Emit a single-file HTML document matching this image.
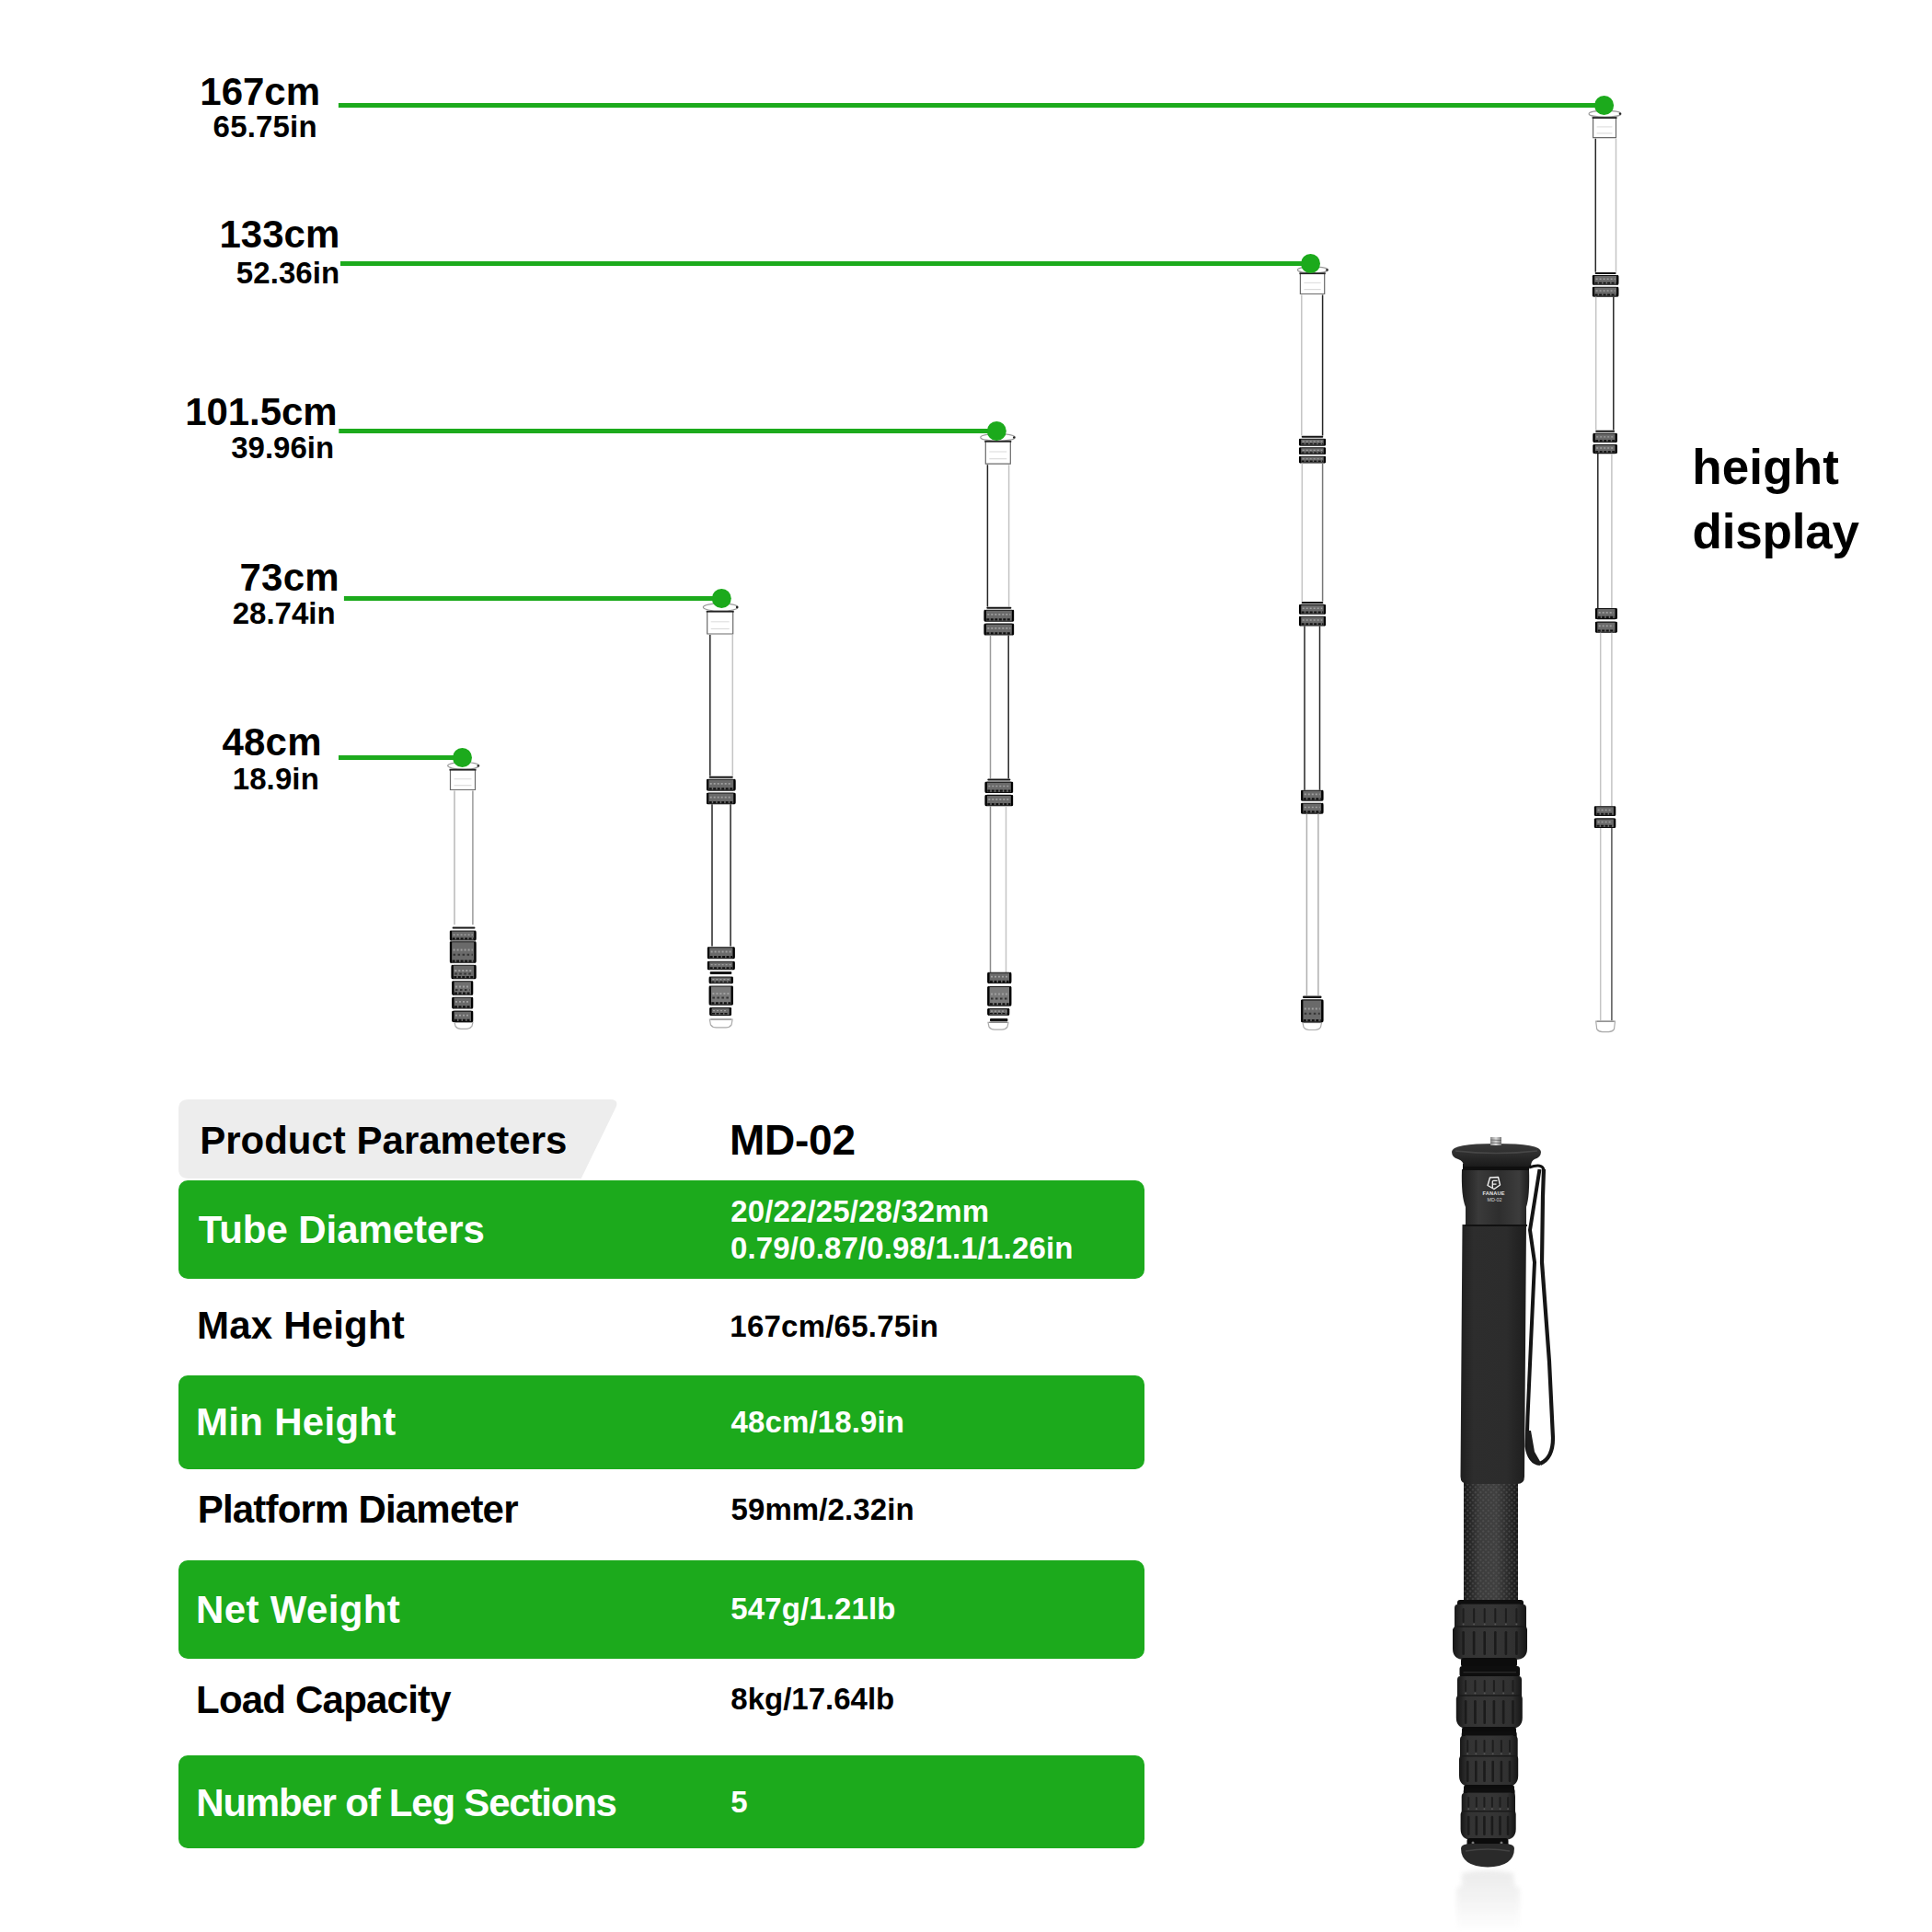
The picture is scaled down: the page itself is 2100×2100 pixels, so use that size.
<!DOCTYPE html>
<html><head><meta charset="utf-8"><style>
html,body{margin:0;padding:0;background:#fff;width:2100px;height:2100px;overflow:hidden}
.abs{position:absolute}
.t{position:absolute;white-space:nowrap;font-family:"Liberation Sans",sans-serif;font-weight:bold}
</style></head><body>
<svg class="abs" width="2100" height="2100" viewBox="0 0 2100 2100" style="left:0;top:0">
<ellipse cx="503.8" cy="832.35" rx="17.100000000000012" ry="3.8500000000000227" fill="#fff" stroke="#9a9a9a" stroke-width="1.2"/><circle cx="519.8000000000001" cy="832.35" r="1.2" fill="#222"/><path d="M489.5,836.2 L489.5,858.5 L516.5,858.5 L516.5,836.2" fill="#fff" stroke="#6a6a6a" stroke-width="1.2"/><line x1="488.5" y1="836.7" x2="517.5" y2="836.7" stroke="#222" stroke-width="1.8"/><line x1="493.5" y1="846.7" x2="512.5" y2="846.7" stroke="#e0e0e0" stroke-width="1.2"/><line x1="493.5" y1="853.7" x2="512.5" y2="853.7" stroke="#dcdcdc" stroke-width="1.2"/><line x1="494" y1="859.5" x2="494" y2="1005" stroke="#b8b8b8" stroke-width="1.5"/><line x1="513.9" y1="859.5" x2="513.9" y2="1005" stroke="#9a9a9a" stroke-width="1.5"/><rect x="491.6" y="1007.4" width="24.899999999999977" height="2.1000000000000227" rx="1" fill="#151515"/><path d="M494,1111 L514,1111 L513,1115.3 Q511,1118.3 507,1118.3 L501,1118.3 Q497,1118.3 495,1115.3 Z" fill="#fff" stroke="#aaa" stroke-width="1.2"/><line x1="495" y1="1111" x2="513" y2="1111" stroke="#888" stroke-width="1.2"/><rect x="489.6" y="1012.0" width="27.2" height="10.0" rx="2" fill="#6a6a6a" stroke="#111" stroke-width="1.1"/><line x1="490.0" y1="1012.7" x2="490.0" y2="1021.3" stroke="#000" stroke-width="2.3" stroke-linecap="round"/><line x1="516.4" y1="1012.7" x2="516.4" y2="1021.3" stroke="#000" stroke-width="2.3" stroke-linecap="round"/><line x1="492.6" y1="1015.9" x2="513.8" y2="1015.9" stroke="#a0a0a0" stroke-width="1.5" stroke-dasharray="2 2"/><line x1="491.6" y1="1020.3" x2="514.8" y2="1020.3" stroke="#111" stroke-width="2.0" stroke-dasharray="3 1.5"/><rect x="489.6" y="1023.7" width="27.2" height="22.6" rx="2" fill="#6a6a6a" stroke="#111" stroke-width="1.1"/><line x1="490.0" y1="1024.4" x2="490.0" y2="1045.6" stroke="#000" stroke-width="2.3" stroke-linecap="round"/><line x1="516.4" y1="1024.4" x2="516.4" y2="1045.6" stroke="#000" stroke-width="2.3" stroke-linecap="round"/><line x1="492.6" y1="1032.6" x2="513.8" y2="1032.6" stroke="#a0a0a0" stroke-width="2.0" stroke-dasharray="2 2"/><line x1="492.6" y1="1037.8" x2="513.8" y2="1037.8" stroke="#333" stroke-width="2" stroke-dasharray="2.5 2.5"/><line x1="491.6" y1="1044.6" x2="514.8" y2="1044.6" stroke="#111" stroke-width="2.2" stroke-dasharray="3 1.5"/><rect x="491.3" y="1049.3" width="25.5" height="14.5" rx="2" fill="#6a6a6a" stroke="#111" stroke-width="1.1"/><line x1="491.7" y1="1050.0" x2="491.7" y2="1063.1" stroke="#000" stroke-width="2.3" stroke-linecap="round"/><line x1="516.4" y1="1050.0" x2="516.4" y2="1063.1" stroke="#000" stroke-width="2.3" stroke-linecap="round"/><line x1="494.3" y1="1055.0" x2="513.8" y2="1055.0" stroke="#a0a0a0" stroke-width="2.0" stroke-dasharray="2 2"/><line x1="494.3" y1="1058.4" x2="513.8" y2="1058.4" stroke="#333" stroke-width="2" stroke-dasharray="2.5 2.5"/><line x1="493.3" y1="1062.1" x2="514.8" y2="1062.1" stroke="#111" stroke-width="2.2" stroke-dasharray="3 1.5"/><rect x="492.0" y="1066.8" width="21.5" height="14.5" rx="2" fill="#707070" stroke="#111" stroke-width="1.1"/><line x1="492.4" y1="1067.5" x2="492.4" y2="1080.6" stroke="#000" stroke-width="2.3" stroke-linecap="round"/><line x1="513.1" y1="1067.5" x2="513.1" y2="1080.6" stroke="#000" stroke-width="2.3" stroke-linecap="round"/><line x1="495.0" y1="1072.5" x2="510.5" y2="1072.5" stroke="#a0a0a0" stroke-width="2.0" stroke-dasharray="2 2"/><line x1="495.0" y1="1075.9" x2="510.5" y2="1075.9" stroke="#333" stroke-width="2" stroke-dasharray="2.5 2.5"/><line x1="494.0" y1="1079.6" x2="511.5" y2="1079.6" stroke="#111" stroke-width="2.2" stroke-dasharray="3 1.5"/><rect x="492.0" y="1084.3" width="21.5" height="11.7" rx="2" fill="#6a6a6a" stroke="#111" stroke-width="1.1"/><line x1="492.4" y1="1085.0" x2="492.4" y2="1095.3" stroke="#000" stroke-width="2.3" stroke-linecap="round"/><line x1="513.1" y1="1085.0" x2="513.1" y2="1095.3" stroke="#000" stroke-width="2.3" stroke-linecap="round"/><line x1="495.0" y1="1088.9" x2="510.5" y2="1088.9" stroke="#a0a0a0" stroke-width="1.8" stroke-dasharray="2 2"/><line x1="494.0" y1="1094.3" x2="511.5" y2="1094.3" stroke="#111" stroke-width="2.2" stroke-dasharray="3 1.5"/><rect x="492.0" y="1099.1" width="21.5" height="11.4" rx="2" fill="#6a6a6a" stroke="#111" stroke-width="1.1"/><line x1="492.4" y1="1099.8" x2="492.4" y2="1109.8" stroke="#000" stroke-width="2.3" stroke-linecap="round"/><line x1="513.1" y1="1099.8" x2="513.1" y2="1109.8" stroke="#000" stroke-width="2.3" stroke-linecap="round"/><line x1="495.0" y1="1103.6" x2="510.5" y2="1103.6" stroke="#a0a0a0" stroke-width="1.7" stroke-dasharray="2 2"/><line x1="494.0" y1="1108.8" x2="511.5" y2="1108.8" stroke="#111" stroke-width="2.2" stroke-dasharray="3 1.5"/>
<ellipse cx="783.25" cy="660.05" rx="18.949999999999978" ry="4.150000000000034" fill="#fff" stroke="#9a9a9a" stroke-width="1.2"/><circle cx="801.1" cy="660.05" r="1.2" fill="#222"/><path d="M768.7,664.2 L768.7,689 L796.7,689 L796.7,664.2" fill="#fff" stroke="#6a6a6a" stroke-width="1.2"/><line x1="767.7" y1="664.7" x2="797.7" y2="664.7" stroke="#222" stroke-width="1.8"/><line x1="772.7" y1="675.8" x2="792.7" y2="675.8" stroke="#e0e0e0" stroke-width="1.2"/><line x1="772.7" y1="683.5" x2="792.7" y2="683.5" stroke="#dcdcdc" stroke-width="1.2"/><line x1="771.8" y1="690" x2="771.8" y2="843.5" stroke="#262626" stroke-width="1.5"/><line x1="796.3" y1="690" x2="796.3" y2="843.5" stroke="#c4c4c4" stroke-width="1.5"/><rect x="770.7" y="843.8" width="26.09999999999991" height="2.0" rx="1" fill="#151515"/><rect x="768.7" y="847.3" width="30.1" height="11.8" rx="2" fill="#6a6a6a" stroke="#111" stroke-width="1.1"/><line x1="769.1" y1="848.0" x2="769.1" y2="858.3" stroke="#000" stroke-width="2.3" stroke-linecap="round"/><line x1="798.4" y1="848.0" x2="798.4" y2="858.3" stroke="#000" stroke-width="2.3" stroke-linecap="round"/><line x1="771.7" y1="851.9" x2="795.8" y2="851.9" stroke="#a0a0a0" stroke-width="1.8" stroke-dasharray="2 2"/><line x1="770.7" y1="857.3" x2="796.8" y2="857.3" stroke="#111" stroke-width="2.2" stroke-dasharray="3 1.5"/><rect x="768.7" y="862.0" width="30.1" height="11.8" rx="2" fill="#6a6a6a" stroke="#111" stroke-width="1.1"/><line x1="769.1" y1="862.8" x2="769.1" y2="873.1" stroke="#000" stroke-width="2.3" stroke-linecap="round"/><line x1="798.4" y1="862.8" x2="798.4" y2="873.1" stroke="#000" stroke-width="2.3" stroke-linecap="round"/><line x1="771.7" y1="866.6" x2="795.8" y2="866.6" stroke="#a0a0a0" stroke-width="1.8" stroke-dasharray="2 2"/><line x1="770.7" y1="872.1" x2="796.8" y2="872.1" stroke="#111" stroke-width="2.2" stroke-dasharray="3 1.5"/><line x1="774" y1="874.3" x2="774" y2="1028.6" stroke="#262626" stroke-width="1.5"/><line x1="794.1" y1="874.3" x2="794.1" y2="1028.6" stroke="#262626" stroke-width="1.5"/><path d="M771.4,1108 L796.1,1108 L795.1,1113.8 Q793.1,1116.8 789.1,1116.8 L778.4,1116.8 Q774.4,1116.8 772.4,1113.8 Z" fill="#fff" stroke="#aaa" stroke-width="1.2"/><line x1="772.4" y1="1108" x2="795.1" y2="1108" stroke="#888" stroke-width="1.2"/><rect x="769.6" y="1029.8" width="28.4" height="12.0" rx="2" fill="#6a6a6a" stroke="#111" stroke-width="1.1"/><line x1="770.0" y1="1030.5" x2="770.0" y2="1041.1" stroke="#000" stroke-width="2.3" stroke-linecap="round"/><line x1="797.6" y1="1030.5" x2="797.6" y2="1041.1" stroke="#000" stroke-width="2.3" stroke-linecap="round"/><line x1="772.6" y1="1034.5" x2="795.0" y2="1034.5" stroke="#a0a0a0" stroke-width="1.8" stroke-dasharray="2 2"/><line x1="771.6" y1="1040.1" x2="796.0" y2="1040.1" stroke="#111" stroke-width="2.2" stroke-dasharray="3 1.5"/><rect x="769.6" y="1045.3" width="28.4" height="8.5" rx="2" fill="#6a6a6a" stroke="#111" stroke-width="1.1"/><line x1="770.0" y1="1046.0" x2="770.0" y2="1053.1" stroke="#000" stroke-width="2.3" stroke-linecap="round"/><line x1="797.6" y1="1046.0" x2="797.6" y2="1053.1" stroke="#000" stroke-width="2.3" stroke-linecap="round"/><line x1="772.6" y1="1048.6" x2="795.0" y2="1048.6" stroke="#a0a0a0" stroke-width="1.3" stroke-dasharray="2 2"/><line x1="771.6" y1="1052.1" x2="796.0" y2="1052.1" stroke="#111" stroke-width="1.7" stroke-dasharray="3 1.5"/><rect x="771.7" y="1056" width="23.59999999999991" height="3" rx="1" fill="#151515"/><rect x="771.4" y="1062.0" width="24.7" height="6.8" rx="2" fill="#6a6a6a" stroke="#111" stroke-width="1.1"/><line x1="771.8" y1="1062.7" x2="771.8" y2="1068.1" stroke="#000" stroke-width="2.3" stroke-linecap="round"/><line x1="795.7" y1="1062.7" x2="795.7" y2="1068.1" stroke="#000" stroke-width="2.3" stroke-linecap="round"/><line x1="774.4" y1="1064.6" x2="793.1" y2="1064.6" stroke="#a0a0a0" stroke-width="1.1" stroke-dasharray="2 2"/><line x1="773.4" y1="1067.1" x2="794.1" y2="1067.1" stroke="#111" stroke-width="1.4" stroke-dasharray="3 1.5"/><rect x="771.4" y="1072.0" width="24.7" height="20.1" rx="2" fill="#7a7a7a" stroke="#111" stroke-width="1.1"/><line x1="771.8" y1="1072.7" x2="771.8" y2="1091.4" stroke="#000" stroke-width="2.3" stroke-linecap="round"/><line x1="795.7" y1="1072.7" x2="795.7" y2="1091.4" stroke="#000" stroke-width="2.3" stroke-linecap="round"/><line x1="774.4" y1="1079.9" x2="793.1" y2="1079.9" stroke="#a0a0a0" stroke-width="2.0" stroke-dasharray="2 2"/><line x1="774.4" y1="1084.6" x2="793.1" y2="1084.6" stroke="#333" stroke-width="2" stroke-dasharray="2.5 2.5"/><line x1="773.4" y1="1090.4" x2="794.1" y2="1090.4" stroke="#111" stroke-width="2.2" stroke-dasharray="3 1.5"/><rect x="772.0" y="1095.5" width="22.3" height="8.0" rx="2" fill="#6a6a6a" stroke="#111" stroke-width="1.1"/><line x1="772.4" y1="1096.2" x2="772.4" y2="1102.8" stroke="#000" stroke-width="2.3" stroke-linecap="round"/><line x1="793.9" y1="1096.2" x2="793.9" y2="1102.8" stroke="#000" stroke-width="2.3" stroke-linecap="round"/><line x1="775.0" y1="1098.6" x2="791.3" y2="1098.6" stroke="#a0a0a0" stroke-width="1.3" stroke-dasharray="2 2"/><line x1="774.0" y1="1101.8" x2="792.3" y2="1101.8" stroke="#111" stroke-width="1.6" stroke-dasharray="3 1.5"/>
<ellipse cx="1084.55" cy="475.4" rx="18.750000000000046" ry="3.9000000000000057" fill="#fff" stroke="#9a9a9a" stroke-width="1.2"/><circle cx="1102.2" cy="475.4" r="1.2" fill="#222"/><path d="M1071.3,479.3 L1071.3,504.2 L1098.3,504.2 L1098.3,479.3" fill="#fff" stroke="#6a6a6a" stroke-width="1.2"/><line x1="1070.3" y1="479.8" x2="1099.3" y2="479.8" stroke="#222" stroke-width="1.8"/><line x1="1075.3" y1="491.0" x2="1094.3" y2="491.0" stroke="#e0e0e0" stroke-width="1.2"/><line x1="1075.3" y1="498.7" x2="1094.3" y2="498.7" stroke="#dcdcdc" stroke-width="1.2"/><line x1="1073.4" y1="505.2" x2="1073.4" y2="659.5" stroke="#262626" stroke-width="1.5"/><line x1="1096.6" y1="505.2" x2="1096.6" y2="659.5" stroke="#c4c4c4" stroke-width="1.5"/><rect x="1072.3" y="659.8" width="27.100000000000136" height="2.0" rx="1" fill="#151515"/><rect x="1070.3" y="663.3" width="31.1" height="11.9" rx="2" fill="#6a6a6a" stroke="#111" stroke-width="1.1"/><line x1="1070.7" y1="664.0" x2="1070.7" y2="674.4" stroke="#000" stroke-width="2.3" stroke-linecap="round"/><line x1="1101.0" y1="664.0" x2="1101.0" y2="674.4" stroke="#000" stroke-width="2.3" stroke-linecap="round"/><line x1="1073.3" y1="667.9" x2="1098.4" y2="667.9" stroke="#a0a0a0" stroke-width="1.8" stroke-dasharray="2 2"/><line x1="1072.3" y1="673.4" x2="1099.4" y2="673.4" stroke="#111" stroke-width="2.2" stroke-dasharray="3 1.5"/><rect x="1070.3" y="678.1" width="31.1" height="11.9" rx="2" fill="#6a6a6a" stroke="#111" stroke-width="1.1"/><line x1="1070.7" y1="678.9" x2="1070.7" y2="689.3" stroke="#000" stroke-width="2.3" stroke-linecap="round"/><line x1="1101.0" y1="678.9" x2="1101.0" y2="689.3" stroke="#000" stroke-width="2.3" stroke-linecap="round"/><line x1="1073.3" y1="682.8" x2="1098.4" y2="682.8" stroke="#a0a0a0" stroke-width="1.8" stroke-dasharray="2 2"/><line x1="1072.3" y1="688.3" x2="1099.4" y2="688.3" stroke="#111" stroke-width="2.2" stroke-dasharray="3 1.5"/><line x1="1076.5" y1="690.5" x2="1076.5" y2="846.3" stroke="#9a9a9a" stroke-width="1.5"/><line x1="1096.2" y1="690.5" x2="1096.2" y2="846.3" stroke="#262626" stroke-width="1.5"/><rect x="1073.3" y="846.5999999999999" width="25.100000000000136" height="2.0" rx="1" fill="#151515"/><rect x="1071.3" y="850.1" width="29.1" height="11.4" rx="2" fill="#6a6a6a" stroke="#111" stroke-width="1.1"/><line x1="1071.7" y1="850.8" x2="1071.7" y2="860.7" stroke="#000" stroke-width="2.3" stroke-linecap="round"/><line x1="1100.0" y1="850.8" x2="1100.0" y2="860.7" stroke="#000" stroke-width="2.3" stroke-linecap="round"/><line x1="1074.3" y1="854.5" x2="1097.4" y2="854.5" stroke="#a0a0a0" stroke-width="1.7" stroke-dasharray="2 2"/><line x1="1073.3" y1="859.7" x2="1098.4" y2="859.7" stroke="#111" stroke-width="2.2" stroke-dasharray="3 1.5"/><rect x="1071.3" y="864.4" width="29.1" height="11.4" rx="2" fill="#6a6a6a" stroke="#111" stroke-width="1.1"/><line x1="1071.7" y1="865.1" x2="1071.7" y2="875.1" stroke="#000" stroke-width="2.3" stroke-linecap="round"/><line x1="1100.0" y1="865.1" x2="1100.0" y2="875.1" stroke="#000" stroke-width="2.3" stroke-linecap="round"/><line x1="1074.3" y1="868.9" x2="1097.4" y2="868.9" stroke="#a0a0a0" stroke-width="1.7" stroke-dasharray="2 2"/><line x1="1073.3" y1="874.1" x2="1098.4" y2="874.1" stroke="#111" stroke-width="2.2" stroke-dasharray="3 1.5"/><line x1="1076.5" y1="876.3" x2="1076.5" y2="1057.4" stroke="#8a8a8a" stroke-width="1.5"/><line x1="1093.5" y1="876.3" x2="1093.5" y2="1057.4" stroke="#c4c4c4" stroke-width="1.5"/><path d="M1074,1111.3 L1096,1111.3 L1095,1116.2 Q1093,1119.2 1089,1119.2 L1081,1119.2 Q1077,1119.2 1075,1116.2 Z" fill="#fff" stroke="#aaa" stroke-width="1.2"/><line x1="1075" y1="1111.3" x2="1095" y2="1111.3" stroke="#888" stroke-width="1.2"/><rect x="1074.0" y="1057.3" width="24.6" height="11.2" rx="2" fill="#6a6a6a" stroke="#111" stroke-width="1.1"/><line x1="1074.4" y1="1058.0" x2="1074.4" y2="1067.8" stroke="#000" stroke-width="2.3" stroke-linecap="round"/><line x1="1098.2" y1="1058.0" x2="1098.2" y2="1067.8" stroke="#000" stroke-width="2.3" stroke-linecap="round"/><line x1="1077.0" y1="1061.7" x2="1095.6" y2="1061.7" stroke="#a0a0a0" stroke-width="1.7" stroke-dasharray="2 2"/><line x1="1076.0" y1="1066.8" x2="1096.6" y2="1066.8" stroke="#111" stroke-width="2.2" stroke-dasharray="3 1.5"/><rect x="1074.0" y="1072.5" width="24.6" height="20.6" rx="2" fill="#7a7a7a" stroke="#111" stroke-width="1.1"/><line x1="1074.4" y1="1073.2" x2="1074.4" y2="1092.4" stroke="#000" stroke-width="2.3" stroke-linecap="round"/><line x1="1098.2" y1="1073.2" x2="1098.2" y2="1092.4" stroke="#000" stroke-width="2.3" stroke-linecap="round"/><line x1="1077.0" y1="1080.6" x2="1095.6" y2="1080.6" stroke="#a0a0a0" stroke-width="2.0" stroke-dasharray="2 2"/><line x1="1077.0" y1="1085.4" x2="1095.6" y2="1085.4" stroke="#333" stroke-width="2" stroke-dasharray="2.5 2.5"/><line x1="1076.0" y1="1091.4" x2="1096.6" y2="1091.4" stroke="#111" stroke-width="2.2" stroke-dasharray="3 1.5"/><rect x="1074.0" y="1096.5" width="22.5" height="6.8" rx="2" fill="#6a6a6a" stroke="#111" stroke-width="1.1"/><line x1="1074.4" y1="1097.2" x2="1074.4" y2="1102.6" stroke="#000" stroke-width="2.3" stroke-linecap="round"/><line x1="1096.1" y1="1097.2" x2="1096.1" y2="1102.6" stroke="#000" stroke-width="2.3" stroke-linecap="round"/><line x1="1077.0" y1="1099.1" x2="1093.5" y2="1099.1" stroke="#a0a0a0" stroke-width="1.1" stroke-dasharray="2 2"/><line x1="1076.0" y1="1101.6" x2="1094.5" y2="1101.6" stroke="#111" stroke-width="1.4" stroke-dasharray="3 1.5"/><rect x="1076" y="1107" width="19.40000000000009" height="3.2999999999999545" rx="1" fill="#151515"/>
<ellipse cx="1426.95" cy="293.35" rx="16.55" ry="3.3499999999999943" fill="#fff" stroke="#9a9a9a" stroke-width="1.2"/><circle cx="1442.4" cy="293.35" r="1.2" fill="#222"/><path d="M1413.4,296.7 L1413.4,319.5 L1439.7,319.5 L1439.7,296.7" fill="#fff" stroke="#6a6a6a" stroke-width="1.2"/><line x1="1412.4" y1="297.2" x2="1440.7" y2="297.2" stroke="#222" stroke-width="1.8"/><line x1="1417.4" y1="307.4" x2="1435.7" y2="307.4" stroke="#e0e0e0" stroke-width="1.2"/><line x1="1417.4" y1="314.6" x2="1435.7" y2="314.6" stroke="#dcdcdc" stroke-width="1.2"/><line x1="1414.8" y1="320.5" x2="1414.8" y2="473.5" stroke="#c4c4c4" stroke-width="1.5"/><line x1="1437.6" y1="320.5" x2="1437.6" y2="473.5" stroke="#262626" stroke-width="1.5"/><rect x="1414.7" y="473.8" width="23.59999999999991" height="2.0" rx="1" fill="#151515"/><rect x="1412.7" y="477.3" width="27.6" height="6.8" rx="2" fill="#6a6a6a" stroke="#111" stroke-width="1.1"/><line x1="1413.1" y1="478.0" x2="1413.1" y2="483.4" stroke="#000" stroke-width="2.3" stroke-linecap="round"/><line x1="1439.9" y1="478.0" x2="1439.9" y2="483.4" stroke="#000" stroke-width="2.3" stroke-linecap="round"/><line x1="1415.7" y1="479.9" x2="1437.3" y2="479.9" stroke="#a0a0a0" stroke-width="1.1" stroke-dasharray="2 2"/><line x1="1414.7" y1="482.4" x2="1438.3" y2="482.4" stroke="#111" stroke-width="1.4" stroke-dasharray="3 1.5"/><rect x="1412.7" y="486.7" width="27.6" height="6.8" rx="2" fill="#6a6a6a" stroke="#111" stroke-width="1.1"/><line x1="1413.1" y1="487.4" x2="1413.1" y2="492.9" stroke="#000" stroke-width="2.3" stroke-linecap="round"/><line x1="1439.9" y1="487.4" x2="1439.9" y2="492.9" stroke="#000" stroke-width="2.3" stroke-linecap="round"/><line x1="1415.7" y1="489.4" x2="1437.3" y2="489.4" stroke="#a0a0a0" stroke-width="1.1" stroke-dasharray="2 2"/><line x1="1414.7" y1="491.9" x2="1438.3" y2="491.9" stroke="#111" stroke-width="1.4" stroke-dasharray="3 1.5"/><rect x="1412.7" y="496.2" width="27.6" height="6.8" rx="2" fill="#6a6a6a" stroke="#111" stroke-width="1.1"/><line x1="1413.1" y1="496.9" x2="1413.1" y2="502.3" stroke="#000" stroke-width="2.3" stroke-linecap="round"/><line x1="1439.9" y1="496.9" x2="1439.9" y2="502.3" stroke="#000" stroke-width="2.3" stroke-linecap="round"/><line x1="1415.7" y1="498.8" x2="1437.3" y2="498.8" stroke="#a0a0a0" stroke-width="1.1" stroke-dasharray="2 2"/><line x1="1414.7" y1="501.3" x2="1438.3" y2="501.3" stroke="#111" stroke-width="1.4" stroke-dasharray="3 1.5"/><line x1="1415.3" y1="503.5" x2="1415.3" y2="653.6" stroke="#c4c4c4" stroke-width="1.5"/><line x1="1437.6" y1="503.5" x2="1437.6" y2="653.6" stroke="#777" stroke-width="1.5"/><rect x="1414.7" y="653.9" width="23.59999999999991" height="2.0" rx="1" fill="#151515"/><rect x="1412.7" y="657.4" width="27.6" height="9.8" rx="2" fill="#6a6a6a" stroke="#111" stroke-width="1.1"/><line x1="1413.1" y1="658.1" x2="1413.1" y2="666.5" stroke="#000" stroke-width="2.3" stroke-linecap="round"/><line x1="1439.9" y1="658.1" x2="1439.9" y2="666.5" stroke="#000" stroke-width="2.3" stroke-linecap="round"/><line x1="1415.7" y1="661.2" x2="1437.3" y2="661.2" stroke="#a0a0a0" stroke-width="1.5" stroke-dasharray="2 2"/><line x1="1414.7" y1="665.5" x2="1438.3" y2="665.5" stroke="#111" stroke-width="1.9" stroke-dasharray="3 1.5"/><rect x="1412.7" y="670.2" width="27.6" height="9.8" rx="2" fill="#6a6a6a" stroke="#111" stroke-width="1.1"/><line x1="1413.1" y1="670.9" x2="1413.1" y2="679.3" stroke="#000" stroke-width="2.3" stroke-linecap="round"/><line x1="1439.9" y1="670.9" x2="1439.9" y2="679.3" stroke="#000" stroke-width="2.3" stroke-linecap="round"/><line x1="1415.7" y1="674.0" x2="1437.3" y2="674.0" stroke="#a0a0a0" stroke-width="1.5" stroke-dasharray="2 2"/><line x1="1414.7" y1="678.3" x2="1438.3" y2="678.3" stroke="#111" stroke-width="1.9" stroke-dasharray="3 1.5"/><line x1="1418" y1="680.5" x2="1418" y2="858.7" stroke="#262626" stroke-width="1.5"/><line x1="1434.5" y1="680.5" x2="1434.5" y2="858.7" stroke="#262626" stroke-width="1.5"/><rect x="1414.8" y="859.2" width="22.9" height="10.9" rx="2" fill="#6a6a6a" stroke="#111" stroke-width="1.1"/><line x1="1415.2" y1="859.9" x2="1415.2" y2="869.4" stroke="#000" stroke-width="2.3" stroke-linecap="round"/><line x1="1437.3" y1="859.9" x2="1437.3" y2="869.4" stroke="#000" stroke-width="2.3" stroke-linecap="round"/><line x1="1417.8" y1="863.4" x2="1434.7" y2="863.4" stroke="#a0a0a0" stroke-width="1.7" stroke-dasharray="2 2"/><line x1="1416.8" y1="868.4" x2="1435.7" y2="868.4" stroke="#111" stroke-width="2.1" stroke-dasharray="3 1.5"/><rect x="1414.8" y="873.2" width="22.9" height="10.9" rx="2" fill="#6a6a6a" stroke="#111" stroke-width="1.1"/><line x1="1415.2" y1="874.0" x2="1415.2" y2="883.4" stroke="#000" stroke-width="2.3" stroke-linecap="round"/><line x1="1437.3" y1="874.0" x2="1437.3" y2="883.4" stroke="#000" stroke-width="2.3" stroke-linecap="round"/><line x1="1417.8" y1="877.5" x2="1434.7" y2="877.5" stroke="#a0a0a0" stroke-width="1.7" stroke-dasharray="2 2"/><line x1="1416.8" y1="882.4" x2="1435.7" y2="882.4" stroke="#111" stroke-width="2.1" stroke-dasharray="3 1.5"/><line x1="1420.4" y1="884.6" x2="1420.4" y2="1082" stroke="#b0b0b0" stroke-width="1.5"/><line x1="1432.9" y1="884.6" x2="1432.9" y2="1082" stroke="#b0b0b0" stroke-width="1.5"/><rect x="1416" y="1082.5" width="20.5" height="2.5" rx="1" fill="#151515"/><path d="M1416,1111.5 L1436.5,1111.5 L1435.5,1116.5 Q1433.5,1119.5 1429.5,1119.5 L1423,1119.5 Q1419,1119.5 1417,1116.5 Z" fill="#fff" stroke="#aaa" stroke-width="1.2"/><line x1="1417" y1="1111.5" x2="1435.5" y2="1111.5" stroke="#888" stroke-width="1.2"/><rect x="1414.8" y="1086.9" width="22.9" height="23.9" rx="2" fill="#6a6a6a" stroke="#111" stroke-width="1.1"/><line x1="1415.2" y1="1087.6" x2="1415.2" y2="1110.1" stroke="#000" stroke-width="2.3" stroke-linecap="round"/><line x1="1437.3" y1="1087.6" x2="1437.3" y2="1110.1" stroke="#000" stroke-width="2.3" stroke-linecap="round"/><line x1="1417.8" y1="1096.4" x2="1434.7" y2="1096.4" stroke="#a0a0a0" stroke-width="2.0" stroke-dasharray="2 2"/><line x1="1417.8" y1="1101.8" x2="1434.7" y2="1101.8" stroke="#333" stroke-width="2" stroke-dasharray="2.5 2.5"/><line x1="1416.8" y1="1109.1" x2="1435.7" y2="1109.1" stroke="#111" stroke-width="2.2" stroke-dasharray="3 1.5"/>
<ellipse cx="1744.5500000000002" cy="123.65" rx="17.449999999999978" ry="3.3500000000000014" fill="#fff" stroke="#9a9a9a" stroke-width="1.2"/><circle cx="1760.9" cy="123.65" r="1.2" fill="#222"/><path d="M1731.6,127.5 L1731.6,149.7 L1756.5,149.7 L1756.5,127.5" fill="#fff" stroke="#6a6a6a" stroke-width="1.2"/><line x1="1730.6" y1="128.0" x2="1757.5" y2="128.0" stroke="#222" stroke-width="1.8"/><line x1="1735.6" y1="137.9" x2="1752.5" y2="137.9" stroke="#e0e0e0" stroke-width="1.2"/><line x1="1735.6" y1="144.9" x2="1752.5" y2="144.9" stroke="#dcdcdc" stroke-width="1.2"/><line x1="1734.3" y1="150.7" x2="1734.3" y2="295.7" stroke="#262626" stroke-width="1.5"/><line x1="1756.5" y1="150.7" x2="1756.5" y2="295.7" stroke="#c4c4c4" stroke-width="1.5"/><rect x="1733.6" y="296.0" width="23.0" height="2.0" rx="1" fill="#151515"/><rect x="1731.6" y="299.5" width="27.0" height="9.8" rx="2" fill="#6a6a6a" stroke="#111" stroke-width="1.1"/><line x1="1732.0" y1="300.2" x2="1732.0" y2="308.6" stroke="#000" stroke-width="2.3" stroke-linecap="round"/><line x1="1758.2" y1="300.2" x2="1758.2" y2="308.6" stroke="#000" stroke-width="2.3" stroke-linecap="round"/><line x1="1734.6" y1="303.3" x2="1755.6" y2="303.3" stroke="#a0a0a0" stroke-width="1.5" stroke-dasharray="2 2"/><line x1="1733.6" y1="307.6" x2="1756.6" y2="307.6" stroke="#111" stroke-width="1.9" stroke-dasharray="3 1.5"/><rect x="1731.6" y="312.3" width="27.0" height="9.8" rx="2" fill="#6a6a6a" stroke="#111" stroke-width="1.1"/><line x1="1732.0" y1="313.0" x2="1732.0" y2="321.4" stroke="#000" stroke-width="2.3" stroke-linecap="round"/><line x1="1758.2" y1="313.0" x2="1758.2" y2="321.4" stroke="#000" stroke-width="2.3" stroke-linecap="round"/><line x1="1734.6" y1="316.1" x2="1755.6" y2="316.1" stroke="#a0a0a0" stroke-width="1.5" stroke-dasharray="2 2"/><line x1="1733.6" y1="320.4" x2="1756.6" y2="320.4" stroke="#111" stroke-width="1.9" stroke-dasharray="3 1.5"/><line x1="1734.7" y1="322.6" x2="1734.7" y2="467.5" stroke="#c4c4c4" stroke-width="1.5"/><line x1="1753.8" y1="322.6" x2="1753.8" y2="467.5" stroke="#262626" stroke-width="1.5"/><rect x="1734.2" y="467.8" width="20.899999999999864" height="2.0" rx="1" fill="#151515"/><rect x="1732.2" y="471.3" width="24.9" height="9.2" rx="2" fill="#6a6a6a" stroke="#111" stroke-width="1.1"/><line x1="1732.6" y1="472.0" x2="1732.6" y2="479.8" stroke="#000" stroke-width="2.3" stroke-linecap="round"/><line x1="1756.7" y1="472.0" x2="1756.7" y2="479.8" stroke="#000" stroke-width="2.3" stroke-linecap="round"/><line x1="1735.2" y1="474.9" x2="1754.1" y2="474.9" stroke="#a0a0a0" stroke-width="1.4" stroke-dasharray="2 2"/><line x1="1734.2" y1="478.8" x2="1755.1" y2="478.8" stroke="#111" stroke-width="1.8" stroke-dasharray="3 1.5"/><rect x="1732.2" y="483.5" width="24.9" height="9.1" rx="2" fill="#6a6a6a" stroke="#111" stroke-width="1.1"/><line x1="1732.6" y1="484.2" x2="1732.6" y2="491.9" stroke="#000" stroke-width="2.3" stroke-linecap="round"/><line x1="1756.7" y1="484.2" x2="1756.7" y2="491.9" stroke="#000" stroke-width="2.3" stroke-linecap="round"/><line x1="1735.2" y1="487.0" x2="1754.1" y2="487.0" stroke="#a0a0a0" stroke-width="1.4" stroke-dasharray="2 2"/><line x1="1734.2" y1="490.9" x2="1755.1" y2="490.9" stroke="#111" stroke-width="1.8" stroke-dasharray="3 1.5"/><line x1="1736.8" y1="493.1" x2="1736.8" y2="661" stroke="#262626" stroke-width="1.5"/><line x1="1751.9" y1="493.1" x2="1751.9" y2="661" stroke="#c4c4c4" stroke-width="1.5"/><rect x="1734.7" y="661.5" width="22.4" height="11.1" rx="2" fill="#6a6a6a" stroke="#111" stroke-width="1.1"/><line x1="1735.1" y1="662.2" x2="1735.1" y2="671.9" stroke="#000" stroke-width="2.3" stroke-linecap="round"/><line x1="1756.7" y1="662.2" x2="1756.7" y2="671.9" stroke="#000" stroke-width="2.3" stroke-linecap="round"/><line x1="1737.7" y1="665.8" x2="1754.1" y2="665.8" stroke="#a0a0a0" stroke-width="1.7" stroke-dasharray="2 2"/><line x1="1736.7" y1="670.9" x2="1755.1" y2="670.9" stroke="#111" stroke-width="2.2" stroke-dasharray="3 1.5"/><rect x="1734.7" y="676.1" width="22.4" height="11.1" rx="2" fill="#6a6a6a" stroke="#111" stroke-width="1.1"/><line x1="1735.1" y1="676.8" x2="1735.1" y2="686.5" stroke="#000" stroke-width="2.3" stroke-linecap="round"/><line x1="1756.7" y1="676.8" x2="1756.7" y2="686.5" stroke="#000" stroke-width="2.3" stroke-linecap="round"/><line x1="1737.7" y1="680.4" x2="1754.1" y2="680.4" stroke="#a0a0a0" stroke-width="1.7" stroke-dasharray="2 2"/><line x1="1736.7" y1="685.5" x2="1755.1" y2="685.5" stroke="#111" stroke-width="2.2" stroke-dasharray="3 1.5"/><line x1="1739.7" y1="687.7" x2="1739.7" y2="876.3" stroke="#c4c4c4" stroke-width="1.5"/><line x1="1751.9" y1="687.7" x2="1751.9" y2="876.3" stroke="#c4c4c4" stroke-width="1.5"/><rect x="1733.6" y="876.8" width="21.9" height="9.6" rx="2" fill="#6a6a6a" stroke="#111" stroke-width="1.1"/><line x1="1734.0" y1="877.5" x2="1734.0" y2="885.7" stroke="#000" stroke-width="2.3" stroke-linecap="round"/><line x1="1755.1" y1="877.5" x2="1755.1" y2="885.7" stroke="#000" stroke-width="2.3" stroke-linecap="round"/><line x1="1736.6" y1="880.5" x2="1752.5" y2="880.5" stroke="#a0a0a0" stroke-width="1.5" stroke-dasharray="2 2"/><line x1="1735.6" y1="884.7" x2="1753.5" y2="884.7" stroke="#111" stroke-width="1.9" stroke-dasharray="3 1.5"/><rect x="1733.6" y="889.9" width="21.9" height="9.6" rx="2" fill="#6a6a6a" stroke="#111" stroke-width="1.1"/><line x1="1734.0" y1="890.6" x2="1734.0" y2="898.8" stroke="#000" stroke-width="2.3" stroke-linecap="round"/><line x1="1755.1" y1="890.6" x2="1755.1" y2="898.8" stroke="#000" stroke-width="2.3" stroke-linecap="round"/><line x1="1736.6" y1="893.6" x2="1752.5" y2="893.6" stroke="#a0a0a0" stroke-width="1.5" stroke-dasharray="2 2"/><line x1="1735.6" y1="897.8" x2="1753.5" y2="897.8" stroke="#111" stroke-width="1.9" stroke-dasharray="3 1.5"/><line x1="1739.7" y1="900" x2="1739.7" y2="1109.2" stroke="#c4c4c4" stroke-width="1.5"/><line x1="1751.9" y1="900" x2="1751.9" y2="1109.2" stroke="#555" stroke-width="1.5"/><path d="M1734.7,1110.2 L1755.5,1110.2 L1754.5,1118.6 Q1752.5,1121.6 1748.5,1121.6 L1741.7,1121.6 Q1737.7,1121.6 1735.7,1118.6 Z" fill="#fff" stroke="#aaa" stroke-width="1.2"/><line x1="1735.7" y1="1110.2" x2="1754.5" y2="1110.2" stroke="#888" stroke-width="1.2"/>
</svg>
<svg class="abs" width="2100" height="2100" viewBox="0 0 2100 2100" style="left:0;top:0"><rect x="367.9" y="112" width="1375.6999999999998" height="5" fill="#1caa1c"/><circle cx="1743.6" cy="114.5" r="10.5" fill="#1caa1c"/><rect x="370" y="284" width="1054.5" height="5" fill="#1caa1c"/><circle cx="1424.5" cy="286.5" r="10.5" fill="#1caa1c"/><rect x="368.3" y="466" width="715.0" height="5" fill="#1caa1c"/><circle cx="1083.3" cy="468.5" r="10.5" fill="#1caa1c"/><rect x="373.9" y="648" width="410.4" height="5" fill="#1caa1c"/><circle cx="784.3" cy="650.5" r="10.5" fill="#1caa1c"/><rect x="368" y="821" width="134.5" height="5" fill="#1caa1c"/><circle cx="502.5" cy="823.5" r="10.5" fill="#1caa1c"/></svg>
<div class="t" style="left:217.3px;top:78.5px;font-size:42px;line-height:42px;color:#000">167cm</div>
<div class="t" style="left:231.6px;top:121.0px;font-size:33px;line-height:33px;color:#000;letter-spacing:0.19px">65.75in</div>
<div class="t" style="left:238.5px;top:234.4px;font-size:42px;line-height:42px;color:#000">133cm</div>
<div class="t" style="left:256.8px;top:280.1px;font-size:33px;line-height:33px;color:#000;letter-spacing:0.07px">52.36in</div>
<div class="t" style="left:201.2px;top:426.9px;font-size:42px;line-height:42px;color:#000;letter-spacing:-0.07px">101.5cm</div>
<div class="t" style="left:251.2px;top:469.7px;font-size:33px;line-height:33px;color:#000">39.96in</div>
<div class="t" style="left:260.4px;top:607.3px;font-size:42px;line-height:42px;color:#000;letter-spacing:0.27px">73cm</div>
<div class="t" style="left:252.7px;top:649.7px;font-size:33px;line-height:33px;color:#000">28.74in</div>
<div class="t" style="left:241.4px;top:785.6px;font-size:42px;line-height:42px;color:#000;letter-spacing:0.22px">48cm</div>
<div class="t" style="left:252.7px;top:829.7px;font-size:33px;line-height:33px;color:#000;letter-spacing:0.11px">18.9in</div>
<div class="t" style="left:1839.3px;top:480.9px;font-size:53px;line-height:53px;color:#000;letter-spacing:0.11px">height</div>
<div class="t" style="left:1839.6px;top:551.1px;font-size:53px;line-height:53px;color:#000;letter-spacing:-0.22px">display</div>

<svg class="abs" width="2100" height="2100" viewBox="0 0 2100 2100" style="left:0;top:0"><path d="M205,1195 L663,1195 Q673,1195 669.5,1203.5 L631.7,1281 L205,1281 Q194,1281 194,1270 L194,1206 Q194,1195 205,1195 Z" fill="#ededed"/></svg><div class="abs" style="left:194px;top:1282.8px;width:1049.8px;height:106.8px;background:#1caa1c;border-radius:10px"></div><div class="abs" style="left:194px;top:1495.1px;width:1049.8px;height:101.7px;background:#1caa1c;border-radius:10px"></div><div class="abs" style="left:194px;top:1695.8px;width:1049.8px;height:106.9px;background:#1caa1c;border-radius:10px"></div><div class="abs" style="left:194px;top:1908.0px;width:1049.8px;height:101.4px;background:#1caa1c;border-radius:10px"></div><div class="t" style="left:217.2px;top:1218.5px;font-size:42px;line-height:42px;color:#000">Product Parameters</div>
<div class="t" style="left:792.9px;top:1215.7px;font-size:46px;line-height:46px;color:#000;letter-spacing:-0.23px">MD-02</div>
<div class="t" style="left:215.8px;top:1315.6px;font-size:42px;line-height:42px;color:#fff;letter-spacing:-0.07px">Tube Diameters</div>
<div class="t" style="left:794.3px;top:1300.0px;font-size:33px;line-height:33px;color:#fff;letter-spacing:0.12px">20/22/25/28/32mm</div>
<div class="t" style="left:794.0px;top:1340.1px;font-size:33px;line-height:33px;color:#fff;letter-spacing:0.15px">0.79/0.87/0.98/1.1/1.26in</div>
<div class="t" style="left:214.1px;top:1420.4px;font-size:42px;line-height:42px;color:#000;letter-spacing:0.18px">Max Height</div>
<div class="t" style="left:793.3px;top:1424.6px;font-size:33px;line-height:33px;color:#000;letter-spacing:0.23px">167cm/65.75in</div>
<div class="t" style="left:213.1px;top:1525.4px;font-size:42px;line-height:42px;color:#fff;letter-spacing:0.28px">Min Height</div>
<div class="t" style="left:794.6px;top:1529.4px;font-size:33px;line-height:33px;color:#fff;letter-spacing:0.13px">48cm/18.9in</div>
<div class="t" style="left:214.7px;top:1620.2px;font-size:42px;line-height:42px;color:#000;letter-spacing:-0.81px">Platform Diameter</div>
<div class="t" style="left:794.5px;top:1623.9px;font-size:33px;line-height:33px;color:#000;letter-spacing:0.10px">59mm/2.32in</div>
<div class="t" style="left:213.1px;top:1728.8px;font-size:42px;line-height:42px;color:#fff;letter-spacing:0.33px">Net Weight</div>
<div class="t" style="left:794.3px;top:1731.9px;font-size:33px;line-height:33px;color:#fff;letter-spacing:0.12px">547g/1.21lb</div>
<div class="t" style="left:213.1px;top:1826.7px;font-size:42px;line-height:42px;color:#000;letter-spacing:-0.80px">Load Capacity</div>
<div class="t" style="left:794.3px;top:1830.3px;font-size:33px;line-height:33px;color:#000">8kg/17.64lb</div>
<div class="t" style="left:213.3px;top:1938.8px;font-size:42px;line-height:42px;color:#fff;letter-spacing:-1.21px">Number of Leg Sections</div>
<div class="t" style="left:794.3px;top:1942.1px;font-size:33px;line-height:33px;color:#fff">5</div>

<svg class="abs" width="2100" height="2100" viewBox="0 0 2100 2100" style="left:0;top:0">
<defs>
<linearGradient id="hg" x1="0" x2="1" y1="0" y2="0">
 <stop offset="0" stop-color="#1e1e1e"/><stop offset="0.25" stop-color="#3a3a3a"/><stop offset="0.55" stop-color="#2e2e2e"/><stop offset="0.85" stop-color="#3c3c3c"/><stop offset="1" stop-color="#1c1c1c"/>
</linearGradient>
<linearGradient id="fg" x1="0" x2="1" y1="0" y2="0">
 <stop offset="0" stop-color="#1f1f1f"/><stop offset="0.2" stop-color="#2d2d2d"/><stop offset="0.7" stop-color="#2c2c2c"/><stop offset="1" stop-color="#1d1d1d"/>
</linearGradient>
<linearGradient id="kg" x1="0" x2="1" y1="0" y2="0">
 <stop offset="0" stop-color="#151515"/><stop offset="0.15" stop-color="#333"/><stop offset="0.5" stop-color="#363636"/><stop offset="0.85" stop-color="#303030"/><stop offset="1" stop-color="#141414"/>
</linearGradient>
<linearGradient id="cg" x1="0" x2="1" y1="0" y2="0">
 <stop offset="0" stop-color="#1a1a1a"/><stop offset="0.3" stop-color="#3c3c3c"/><stop offset="0.6" stop-color="#404040"/><stop offset="1" stop-color="#1a1a1a"/>
</linearGradient>
<pattern id="cp" width="4" height="4" patternUnits="userSpaceOnUse" patternTransform="rotate(45)">
 <rect width="4" height="4" fill="none"/><rect x="0" y="0" width="2" height="2" fill="#5e5e5e" opacity="0.5"/>
</pattern>
<linearGradient id="pg" x1="0" x2="0" y1="0" y2="1">
 <stop offset="0" stop-color="#3a3a3a"/><stop offset="0.5" stop-color="#2c2c2c"/><stop offset="1" stop-color="#1a1a1a"/>
</linearGradient>
<linearGradient id="rg" x1="0" x2="0" y1="0" y2="1">
 <stop offset="0" stop-color="#e6e6e6"/><stop offset="1" stop-color="#ffffff"/>
</linearGradient>
<linearGradient id="sg" x1="0" x2="1" y1="0" y2="0">
 <stop offset="0" stop-color="#888"/><stop offset="0.5" stop-color="#ddd"/><stop offset="1" stop-color="#777"/>
</linearGradient>
</defs>
<filter id="blur3" x="-20%" y="-20%" width="140%" height="140%"><feGaussianBlur stdDeviation="2.5"/></filter>
<path d="M1589,2036 Q1617,2030 1645,2036 L1646,2049 L1652,2053 L1652,2100 L1583,2100 L1583,2053 L1589,2049 Z" fill="url(#rg)" filter="url(#blur3)" opacity="0.8"/>
<rect x="1591" y="1605" width="59" height="140" fill="url(#cg)"/>
<rect x="1591" y="1605" width="59" height="140" fill="url(#cp)"/>
<rect x="1584" y="1739" width="72" height="9" rx="3" fill="#0e0e0e"/><line x1="1588" y1="1744.0" x2="1652" y2="1744.0" stroke="#2a2a2a" stroke-width="1.2"/><path d="M1584,1744 L1656,1744 Q1659,1744 1659,1748 L1659,1768 L1660,1771 L1660,1792 Q1660,1804 1647,1804 L1592,1804 Q1579,1804 1579,1792 L1579,1771 L1581,1768 L1581,1748 Q1581,1744 1584,1744 Z" fill="url(#kg)"/><line x1="1583" y1="1768" x2="1657" y2="1768" stroke="#1a1a1a" stroke-width="1.5"/><rect x="1589.3" y="1773" width="2.6" height="26" rx="1.3" fill="#1b1b1b"/><rect x="1589.6" y="1748" width="2" height="16" rx="1" fill="#1d1d1d"/><circle cx="1590.6" cy="1765.5" r="1" fill="#555"/><rect x="1600.8" y="1773" width="2.6" height="26" rx="1.3" fill="#1b1b1b"/><rect x="1601.1" y="1748" width="2" height="16" rx="1" fill="#1d1d1d"/><circle cx="1602.1" cy="1765.5" r="1" fill="#555"/><rect x="1612.4" y="1773" width="2.6" height="26" rx="1.3" fill="#1b1b1b"/><rect x="1612.7" y="1748" width="2" height="16" rx="1" fill="#1d1d1d"/><circle cx="1613.7" cy="1765.5" r="1" fill="#555"/><rect x="1624.0" y="1773" width="2.6" height="26" rx="1.3" fill="#1b1b1b"/><rect x="1624.3" y="1748" width="2" height="16" rx="1" fill="#1d1d1d"/><circle cx="1625.3" cy="1765.5" r="1" fill="#555"/><rect x="1635.6" y="1773" width="2.6" height="26" rx="1.3" fill="#1b1b1b"/><rect x="1635.9" y="1748" width="2" height="16" rx="1" fill="#1d1d1d"/><circle cx="1636.9" cy="1765.5" r="1" fill="#555"/><rect x="1647.1" y="1773" width="2.6" height="26" rx="1.3" fill="#1b1b1b"/><rect x="1647.4" y="1748" width="2" height="16" rx="1" fill="#1d1d1d"/><circle cx="1648.4" cy="1765.5" r="1" fill="#555"/>
<rect x="1588" y="1802" width="61" height="10" rx="3" fill="#0c0c0c"/>
<rect x="1586.5" y="1811" width="65.5" height="12" rx="3" fill="#0e0e0e"/><line x1="1590.5" y1="1817.6" x2="1648" y2="1817.6" stroke="#2a2a2a" stroke-width="1.2"/><path d="M1587,1822 L1651,1822 Q1654,1822 1654,1826 L1654,1843 L1654.8,1846 L1654.8,1867 Q1654.8,1879 1641.8,1879 L1595.8,1879 Q1582.8,1879 1582.8,1867 L1582.8,1846 L1584,1843 L1584,1826 Q1584,1822 1587,1822 Z" fill="url(#kg)"/><line x1="1586" y1="1843" x2="1652" y2="1843" stroke="#1a1a1a" stroke-width="1.5"/><rect x="1591.8" y="1848" width="2.6" height="26" rx="1.3" fill="#1b1b1b"/><rect x="1592.1" y="1826" width="2" height="13" rx="1" fill="#1d1d1d"/><circle cx="1593.1" cy="1840.5" r="1" fill="#555"/><rect x="1602.1" y="1848" width="2.6" height="26" rx="1.3" fill="#1b1b1b"/><rect x="1602.4" y="1826" width="2" height="13" rx="1" fill="#1d1d1d"/><circle cx="1603.4" cy="1840.5" r="1" fill="#555"/><rect x="1612.4" y="1848" width="2.6" height="26" rx="1.3" fill="#1b1b1b"/><rect x="1612.7" y="1826" width="2" height="13" rx="1" fill="#1d1d1d"/><circle cx="1613.7" cy="1840.5" r="1" fill="#555"/><rect x="1622.6" y="1848" width="2.6" height="26" rx="1.3" fill="#1b1b1b"/><rect x="1622.9" y="1826" width="2" height="13" rx="1" fill="#1d1d1d"/><circle cx="1623.9" cy="1840.5" r="1" fill="#555"/><rect x="1632.9" y="1848" width="2.6" height="26" rx="1.3" fill="#1b1b1b"/><rect x="1633.2" y="1826" width="2" height="13" rx="1" fill="#1d1d1d"/><circle cx="1634.2" cy="1840.5" r="1" fill="#555"/><rect x="1643.2" y="1848" width="2.6" height="26" rx="1.3" fill="#1b1b1b"/><rect x="1643.5" y="1826" width="2" height="13" rx="1" fill="#1d1d1d"/><circle cx="1644.5" cy="1840.5" r="1" fill="#555"/>
<rect x="1589" y="1877" width="59" height="8" rx="3" fill="#0c0c0c"/>
<rect x="1588.7" y="1881.7" width="60.0" height="9.299999999999955" rx="3" fill="#0e0e0e"/><line x1="1592.7" y1="1886.8" x2="1644.7" y2="1886.8" stroke="#2a2a2a" stroke-width="1.2"/><path d="M1590,1887 L1646.7,1887 Q1649.7,1887 1649.7,1891 L1649.7,1908.7 L1650.2,1911.7 L1650.2,1930 Q1650.2,1942 1637.2,1942 L1599,1942 Q1586,1942 1586,1930 L1586,1911.7 L1587,1908.7 L1587,1891 Q1587,1887 1590,1887 Z" fill="url(#kg)"/><line x1="1589" y1="1908.7" x2="1647.7" y2="1908.7" stroke="#1a1a1a" stroke-width="1.5"/><rect x="1593.9" y="1913.7" width="2.6" height="23.299999999999955" rx="1.3" fill="#1b1b1b"/><rect x="1594.2" y="1891" width="2" height="13.700000000000045" rx="1" fill="#1d1d1d"/><circle cx="1595.2" cy="1906.2" r="1" fill="#555"/><rect x="1603.0" y="1913.7" width="2.6" height="23.299999999999955" rx="1.3" fill="#1b1b1b"/><rect x="1603.3" y="1891" width="2" height="13.700000000000045" rx="1" fill="#1d1d1d"/><circle cx="1604.3" cy="1906.2" r="1" fill="#555"/><rect x="1612.2" y="1913.7" width="2.6" height="23.299999999999955" rx="1.3" fill="#1b1b1b"/><rect x="1612.5" y="1891" width="2" height="13.700000000000045" rx="1" fill="#1d1d1d"/><circle cx="1613.5" cy="1906.2" r="1" fill="#555"/><rect x="1621.4" y="1913.7" width="2.6" height="23.299999999999955" rx="1.3" fill="#1b1b1b"/><rect x="1621.7" y="1891" width="2" height="13.700000000000045" rx="1" fill="#1d1d1d"/><circle cx="1622.7" cy="1906.2" r="1" fill="#555"/><rect x="1630.6" y="1913.7" width="2.6" height="23.299999999999955" rx="1.3" fill="#1b1b1b"/><rect x="1630.9" y="1891" width="2" height="13.700000000000045" rx="1" fill="#1d1d1d"/><circle cx="1631.9" cy="1906.2" r="1" fill="#555"/><rect x="1639.7" y="1913.7" width="2.6" height="23.299999999999955" rx="1.3" fill="#1b1b1b"/><rect x="1640.0" y="1891" width="2" height="13.700000000000045" rx="1" fill="#1d1d1d"/><circle cx="1641.0" cy="1906.2" r="1" fill="#555"/>
<rect x="1591" y="1940" width="55" height="8" rx="3" fill="#0c0c0c"/>
<rect x="1590.7" y="1944" width="55.899999999999864" height="9" rx="3" fill="#0e0e0e"/><line x1="1594.7" y1="1949.0" x2="1642.6" y2="1949.0" stroke="#2a2a2a" stroke-width="1.2"/><path d="M1591.7,1949 L1644,1949 Q1647,1949 1647,1953 L1647,1968.7 L1647.7,1971.7 L1647.7,1988 Q1647.7,2000 1634.7,2000 L1600.6,2000 Q1587.6,2000 1587.6,1988 L1587.6,1971.7 L1588.7,1968.7 L1588.7,1953 Q1588.7,1949 1591.7,1949 Z" fill="url(#kg)"/><line x1="1590.7" y1="1968.7" x2="1645" y2="1968.7" stroke="#1a1a1a" stroke-width="1.5"/><rect x="1594.9" y="1973.7" width="2.6" height="21.299999999999955" rx="1.3" fill="#1b1b1b"/><rect x="1595.2" y="1953" width="2" height="11.700000000000045" rx="1" fill="#1d1d1d"/><circle cx="1596.2" cy="1966.2" r="1" fill="#555"/><rect x="1603.5" y="1973.7" width="2.6" height="21.299999999999955" rx="1.3" fill="#1b1b1b"/><rect x="1603.8" y="1953" width="2" height="11.700000000000045" rx="1" fill="#1d1d1d"/><circle cx="1604.8" cy="1966.2" r="1" fill="#555"/><rect x="1612.1" y="1973.7" width="2.6" height="21.299999999999955" rx="1.3" fill="#1b1b1b"/><rect x="1612.4" y="1953" width="2" height="11.700000000000045" rx="1" fill="#1d1d1d"/><circle cx="1613.4" cy="1966.2" r="1" fill="#555"/><rect x="1620.6" y="1973.7" width="2.6" height="21.299999999999955" rx="1.3" fill="#1b1b1b"/><rect x="1620.9" y="1953" width="2" height="11.700000000000045" rx="1" fill="#1d1d1d"/><circle cx="1621.9" cy="1966.2" r="1" fill="#555"/><rect x="1629.2" y="1973.7" width="2.6" height="21.299999999999955" rx="1.3" fill="#1b1b1b"/><rect x="1629.5" y="1953" width="2" height="11.700000000000045" rx="1" fill="#1d1d1d"/><circle cx="1630.5" cy="1966.2" r="1" fill="#555"/><rect x="1637.8" y="1973.7" width="2.6" height="21.299999999999955" rx="1.3" fill="#1b1b1b"/><rect x="1638.1" y="1953" width="2" height="11.700000000000045" rx="1" fill="#1d1d1d"/><circle cx="1639.1" cy="1966.2" r="1" fill="#555"/>
<rect x="1594.5" y="1998" width="45" height="10" rx="3" fill="#0b0b0b"/>
<circle cx="1601" cy="2003" r="1.5" fill="#777"/><circle cx="1632" cy="2003" r="1.5" fill="#777"/>
<path d="M1588,2009 Q1588,2004 1600,2004 L1634,2004 Q1646,2004 1646,2009 Q1646,2029 1617,2029.5 Q1588,2029 1588,2009 Z" fill="#2a2a2a"/>
<path d="M1593,2012 Q1617,2008 1641,2012" stroke="#444" stroke-width="1.5" fill="none"/>
<path d="M1589.5,1331 L1659,1331 L1657,1605 Q1657,1613 1649,1613 L1596,1613 Q1587.5,1613 1587.5,1605 Z" fill="url(#fg)"/>
<path d="M1589,1271 L1662,1271 Q1663,1300 1659,1312 L1659,1332 L1593,1332 L1593,1312 Q1588,1300 1589,1271 Z" fill="url(#hg)"/>
<line x1="1592" y1="1332" x2="1660" y2="1332" stroke="#111" stroke-width="2"/>
<rect x="1590" y="1265" width="72" height="7" fill="#0f0f0f"/>
<path d="M1578,1252 Q1578,1243 1626,1243 Q1675,1243 1675,1252 Q1675,1258 1668,1260 Q1664,1262 1664,1268 L1591,1268 Q1591,1262 1585,1260 Q1578,1258 1578,1252 Z" fill="url(#pg)"/>
<path d="M1582,1251 Q1626,1256 1671,1251" stroke="#474747" stroke-width="1.5" fill="none"/>
<rect x="1620" y="1236" width="12" height="9" fill="url(#sg)"/>
<line x1="1620" y1="1239" x2="1632" y2="1239.5" stroke="#666" stroke-width="0.8"/><line x1="1620" y1="1242" x2="1632" y2="1242.5" stroke="#666" stroke-width="0.8"/>
<path d="M1619.5,1280 L1628.5,1279.5 L1630.5,1288 L1624,1292.5 L1617,1288.5 Z" fill="none" stroke="#f2f2f2" stroke-width="1.4" stroke-linejoin="round"/>
<path d="M1622.3,1291.5 L1622.3,1284.5 Q1622.3,1283.3 1623.5,1283.3 L1627.5,1283.3 M1622.3,1287.2 L1626.5,1287.2" fill="none" stroke="#f2f2f2" stroke-width="1.3"/>
<text x="1623.5" y="1298.8" font-family="Liberation Sans" font-weight="bold" font-size="5.6" fill="#e8e8e8" text-anchor="middle" letter-spacing="0.2">FANAUE</text>
<text x="1624.5" y="1305.8" font-family="Liberation Sans" font-size="5.4" fill="#d8d8d8" text-anchor="middle">MD-02</text>
<path d="M1662,1269 Q1677,1264 1678,1272" fill="none" stroke="#111" stroke-width="3"/>
<path d="M1673.5,1271 L1663,1337 L1668,1372 L1664,1460 L1660.5,1540 L1659.5,1572 Q1662,1590 1674,1591" fill="none" stroke="#141414" stroke-width="4" stroke-linejoin="round"/>
<path d="M1678,1271 L1677,1300 L1676,1372 L1684,1480 L1688,1563 Q1688,1585 1674,1591" fill="none" stroke="#161616" stroke-width="4.2" stroke-linejoin="round"/>
<path d="M1658.5,1555 L1660,1580 Q1665,1593 1676,1592 L1668,1578 L1664,1555 Z" fill="#1c1c1c"/>
</svg>
</body></html>
